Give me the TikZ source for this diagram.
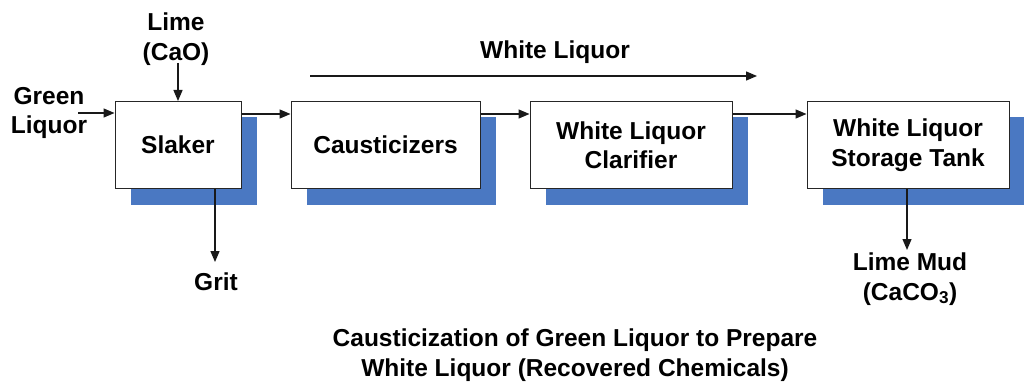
\documentclass[tikz,border=0pt]{standalone}
\usepackage{fontspec}
\setmainfont{Liberation Sans}
\usetikzlibrary{arrows.meta,shadows}
\definecolor{shblue}{HTML}{4A78C2}
\begin{document}
\begin{tikzpicture}[x=1pt,y=-1pt,
  font=\fontsize{24.5}{29.5}\selectfont\bfseries,
  every node/.style={align=center, inner sep=0pt},
  procbox/.style={draw=black!85, line width=1pt, fill=white, minimum height=87pt,
    drop shadow={shadow xshift=16pt, shadow yshift=-16pt, fill=shblue, opacity=1}},
  flow/.style={draw=black!90, line width=1.3pt, -{Triangle[length=11pt,width=9pt]}},
  lbl/.style={text=black}]
\useasboundingbox (0,0) rectangle (1024,382);
% boxes
\node[procbox, minimum width=126pt] (slaker) at (178,145) {Slaker};
\node[procbox, minimum width=189pt] (caus) at (385.5,145) {Causticizers};
\node[procbox, minimum width=202pt] (clar) at (631,145) {White Liquor\\Clarifier};
\node[procbox, minimum width=202pt] (tank) at (908,145) {White Liquor\\Storage Tank};
% labels
\node[lbl] (lime) at (176,39) {Lime\\(CaO)};
\node[lbl] (green) at (49,113) {Green\\Liquor};
\node[lbl] (wl) at (555,52) {White Liquor};
\node[lbl] (grit) at (216,282) {Grit};
\node[lbl] (mud) at (910,279) {Lime Mud\\(CaCO\textsubscript{3})};
\node[lbl] (title) at (575,355) {Causticization of Green Liquor to Prepare\\White Liquor (Recovered Chemicals)};
% helper coordinates
\coordinate (glstart) at (78,113);
\coordinate (wlstart) at (310,76);
\coordinate (wlend) at (757,76);
\coordinate (gritend) at (215,262);
\coordinate (mudend) at (907,250);
\coordinate (limestart) at (178,63);
% connectors
\draw[flow] (glstart) -- (glstart -| slaker.west);
\draw[flow] (limestart) -- (slaker.north);
\draw[flow] ([yshift=-13pt]slaker.north east) -- ([yshift=-13pt]caus.north west);
\draw[flow] ([yshift=-13pt]caus.north east) -- ([yshift=-13pt]clar.north west);
\draw[flow] ([yshift=-13pt]clar.north east) -- ([yshift=-13pt]tank.north west);
\draw[flow] (wlstart) -- (wlend);
\draw[flow] (gritend |- slaker.south) -- (gritend);
\draw[flow] (mudend |- tank.south) -- (mudend);
\end{tikzpicture}
\end{document}
